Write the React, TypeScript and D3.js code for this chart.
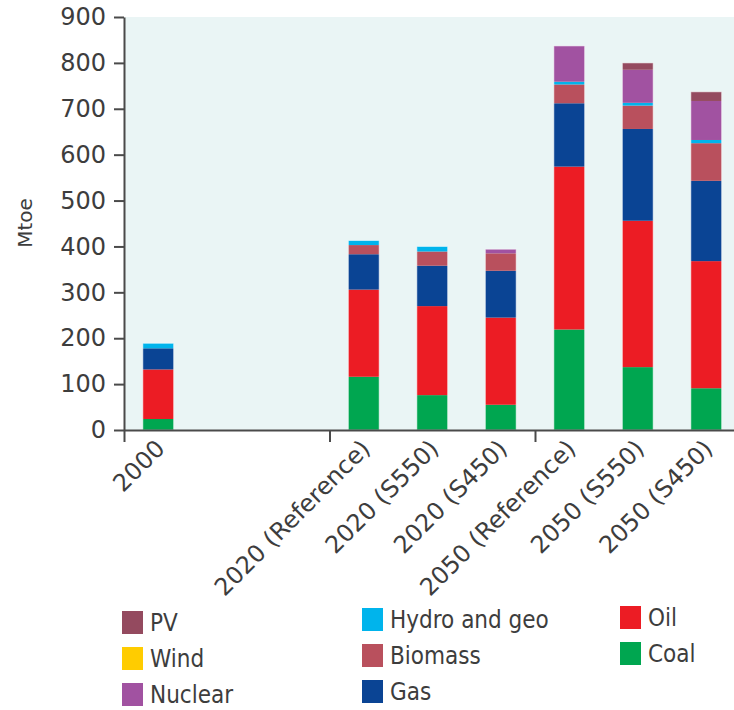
import { useEffect, useRef } from "react";
import * as d3 from "d3";

// categories and the slot each one sits in (slots 1 and 2 are empty on the original axis)
const categories = [ "2000", "2020 (Reference)", "2020 (S550)", "2020 (S450)", "2050 (Reference)", "2050 (S550)", "2050 (S450)" ];
const categorySlots = [ 0, 3, 4, 5, 6, 7, 8 ];
const slotCount = 9;
const xTickSlots = [ 0, 3, 6, 9 ];

// Mtoe
const coal = [ 24, 116, 76, 55, 219, 137, 91 ];
const oil = [ 108, 190, 194, 190, 355, 319, 277 ];
const gas = [ 46, 77, 88, 102, 138, 200, 175 ];
const biomass = [ 0, 20, 31, 38, 41, 51, 82 ];
const hydro = [ 11, 10, 11, 0, 6, 6, 7 ];
const nuclear = [ 0, 0, 0, 9, 78, 72, 85 ];
const wind = [ 0, 0, 0, 0, 0, 0, 0 ];
const pv = [ 0, 0, 0, 0, 0, 15, 20 ];

const yTicks = [ 0, 100, 200, 300, 400, 500, 600, 700, 800, 900 ];

// stack order bottom -> top
const series = [
    { key: "coal", label: "Coal", color: "#00a650", values: coal },
    { key: "oil", label: "Oil", color: "#ec1c24", values: oil },
    { key: "gas", label: "Gas", color: "#0a4494", values: gas },
    { key: "biomass", label: "Biomass", color: "#b9505d", values: biomass },
    { key: "hydro", label: "Hydro and geo", color: "#00b4ec", values: hydro },
    { key: "nuclear", label: "Nuclear", color: "#a152a1", values: nuclear },
    { key: "wind", label: "Wind", color: "#ffcc00", values: wind },
    { key: "pv", label: "PV", color: "#944a5f", values: pv },
];

// legend columns, as laid out in the original
const legendColumns = [ [ "pv", "wind", "nuclear" ], [ "hydro", "biomass", "gas" ], [ "oil", "coal" ] ];

const TEXT = "#3d3d3d";
const AXIS = "#4a4a4a";
const FONT = "'DejaVu Sans', sans-serif";
const FONT_NARROW = "'DejaVu Sans Condensed', 'DejaVu Sans', sans-serif";

export default function App ()
{
    const svgRef = useRef<SVGSVGElement>( null );

    useEffect( () =>
    {
        if ( !svgRef.current ) return;
        const svg = d3.select( svgRef.current );
        svg.selectAll( "*" ).remove();

        const W = 734, H = 710;
        const left = 124, top = 17, bottom = 430;
        const right = left + 68.5 * slotCount;

        const slotX = d3.scaleLinear().domain( [ 0, slotCount ] ).range( [ left, right ] );
        const band = d3.scaleBand<number>().domain( d3.range( slotCount ) ).range( [ left, right ] )
            .paddingInner( 0.55 ).paddingOuter( 0.275 );
        const y = d3.scaleLinear().domain( [ 0, 900 ] ).range( [ bottom, top ] );

        // plot background
        svg.append( "rect" ).attr( "x", left ).attr( "y", top ).attr( "width", right - left ).attr( "height", bottom - top )
            .attr( "fill", "#eaf5f5" );

        // stacked bars
        const rows = categories.map( ( c, i ) =>
        {
            const r: any = { category: c, slot: categorySlots[ i ] };
            series.forEach( ( s ) => { r[ s.key ] = s.values[ i ]; } );
            return r;
        } );
        const stacked = d3.stack().keys( series.map( ( s ) => s.key ) )( rows );

        const g = svg.append( "g" );
        stacked.forEach( ( layer, li ) =>
        {
            g.append( "g" ).selectAll( "rect" ).data( layer.filter( ( d ) => d[ 1 ] - d[ 0 ] > 0 ) ).join( "rect" )
                .attr( "x", ( d: any ) => band( d.data.slot )! )
                .attr( "width", band.bandwidth() )
                .attr( "y", ( d ) => y( d[ 1 ] ) )
                .attr( "height", ( d ) => y( d[ 0 ] ) - y( d[ 1 ] ) )
                .attr( "fill", series[ li ].color );
        } );
        // faint light outline around each bar
        g.append( "g" ).selectAll( "rect" ).data( stacked[ stacked.length - 1 ] ).join( "rect" )
            .attr( "x", ( d: any ) => band( d.data.slot )! )
            .attr( "width", band.bandwidth() )
            .attr( "y", ( d ) => y( d[ 1 ] ) )
            .attr( "height", ( d ) => y( 0 ) - y( d[ 1 ] ) )
            .attr( "fill", "none" ).attr( "stroke", "#ffffff" ).attr( "stroke-opacity", 0.55 ).attr( "stroke-width", 1 );

        // y axis
        const ya = svg.append( "g" ).attr( "transform", `translate(${ left },0)` )
            .call( d3.axisLeft( y ).tickValues( yTicks ).tickSize( 10 ).tickSizeOuter( 0 ).tickPadding( 8 ) );
        ya.select( ".domain" ).attr( "stroke", AXIS ).attr( "stroke-width", 2 );
        ya.selectAll( ".tick line" ).attr( "stroke", AXIS ).attr( "stroke-width", 2 );
        ya.selectAll( "text" ).attr( "fill", TEXT ).style( "font-size", "24px" ).style( "font-family", FONT );

        // x axis: ticks every third slot, labels placed under each bar
        const xa = svg.append( "g" ).attr( "transform", `translate(0,${ bottom })` )
            .call( d3.axisBottom( slotX ).tickValues( xTickSlots ).tickSize( 12 ).tickSizeOuter( 0 ).tickFormat( () => "" ) );
        xa.select( ".domain" ).attr( "stroke", AXIS ).attr( "stroke-width", 2 );
        xa.selectAll( ".tick line" ).attr( "stroke", AXIS ).attr( "stroke-width", 2 );

        svg.append( "g" ).selectAll( "text" ).data( categories ).join( "text" )
            .attr( "transform", ( _, i ) => `translate(${ band( categorySlots[ i ] )! + band.bandwidth() / 2 + 8 },${ bottom + 20 }) rotate(-45)` )
            .attr( "text-anchor", "end" )
            .attr( "fill", TEXT ).style( "font-size", "24px" ).style( "font-family", FONT )
            .text( ( d ) => d );

        // y label
        svg.append( "text" ).attr( "transform", `translate(32,${ 223 }) rotate(-90)` )
            .attr( "text-anchor", "middle" )
            .attr( "fill", TEXT ).style( "font-size", "20px" ).style( "font-family", FONT )
            .text( "Mtoe" );

        // legend
        const colX = [ 122, 362, 620 ];
        const colY = [ 611, 608, 606 ];
        const rowStep = 36;
        legendColumns.forEach( ( col, ci ) =>
        {
            col.forEach( ( key, ri ) =>
            {
                const s = series.find( ( d ) => d.key === key )!;
                const item = svg.append( "g" ).attr( "transform", `translate(${ colX[ ci ] },${ colY[ ci ] + ri * rowStep })` );
                item.append( "rect" ).attr( "width", 21 ).attr( "height", 23 ).attr( "fill", s.color );
                item.append( "text" ).attr( "x", 28 ).attr( "y", 20 )
                    .attr( "fill", TEXT ).style( "font-size", "24px" ).style( "font-family", FONT_NARROW ).style( "font-stretch", "condensed" )
                    .text( s.label );
            } );
        } );

        svg.attr( "width", W ).attr( "height", H );
    }, [] );

    return (
        <div style={ { position: "absolute", left: 0, top: 0, width: 734, height: 710, overflow: "hidden", background: "#fff" } }>
            <svg ref={ svgRef } width={ 734 } height={ 710 } style={ { display: "block" } } />
        </div>
    );
}
